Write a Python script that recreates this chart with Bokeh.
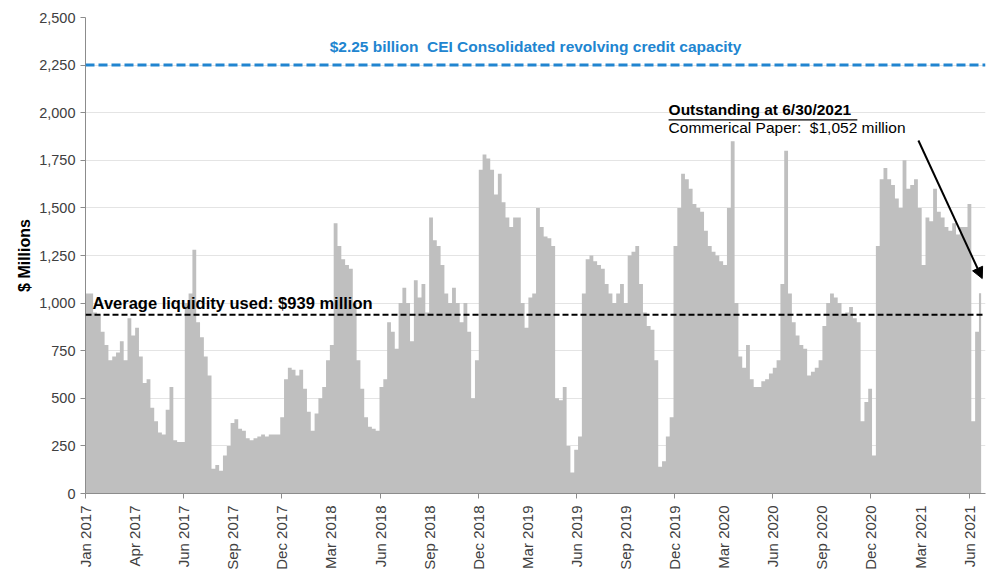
import math
import pandas as pd
from bokeh.plotting import figure
from bokeh.models import (FixedTicker, DatetimeTickFormatter, NumeralTickFormatter,
                          Span, Label, Arrow, NormalHead, Range1d, ColumnDataSource)
from bokeh.embed import file_html
from bokeh.resources import INLINE

# ---------------- data (weekly readings, $ millions) ----------------
start_date = "2017-01-01"
weekly_usage = [
    1050, 1050, 950, 940, 850, 780, 700, 720, 740, 800,
    700, 920, 830, 870, 720, 580, 600, 450, 380, 320,
    310, 440, 560, 280, 270, 270, 1000, 1050, 1280, 900,
    820, 720, 620, 130, 150, 120, 200, 250, 370, 390,
    340, 330, 290, 280, 290, 300, 310, 300, 310, 310,
    310, 400, 600, 660, 650, 620, 650, 550, 430, 330,
    420, 500, 560, 700, 780, 1420, 1300, 1230, 1200, 1180,
    1000, 700, 550, 400, 350, 340, 330, 560, 600, 900,
    850, 760, 1000, 1080, 1000, 800, 1120, 1030, 1100, 950,
    1450, 1330, 1300, 1200, 1050, 1000, 1080, 1000, 900, 1000,
    850, 500, 700, 1700, 1780, 1760, 1700, 1570, 1680, 1530,
    1450, 1400, 1450, 1450, 1000, 870, 1030, 1050, 1500, 1400,
    1350, 1340, 1300, 500, 490, 560, 250, 110, 230, 300,
    1050, 1230, 1250, 1220, 1200, 1180, 1100, 1050, 1000, 1050,
    1100, 1000, 1250, 1270, 1300, 1100, 950, 880, 860, 700,
    140, 170, 300, 400, 1300, 1500, 1680, 1650, 1600, 1520,
    1500, 1480, 1380, 1300, 1270, 1250, 1220, 1200, 1500, 1850,
    1000, 720, 660, 780, 600, 560, 560, 590, 600, 630,
    660, 700, 1100, 1800, 1050, 900, 830, 780, 760, 620,
    640, 660, 700, 880, 1000, 1050, 1030, 1000, 940, 950,
    980, 920, 900, 380, 480, 550, 200, 1300, 1650, 1710,
    1650, 1620, 1550, 1500, 1750, 1600, 1620, 1650, 1500, 1200,
    1450, 1430, 1600, 1480, 1450, 1400, 1380, 1420, 1360, 1400,
    1400, 1520, 380, 850, 1052,
]
end_date = "2021-07-01"          # 6/30/2021 close
credit_capacity = 2250
average_used = 939
outstanding_cp = 1052

y_ticks = [0, 250, 500, 750, 1000, 1250, 1500, 1750, 2000, 2250, 2500]

# --------------------------------------------------------------------
def ms(ts):
    return pd.Timestamp(ts).value // 10**6

dates = list(pd.date_range(start_date, periods=len(weekly_usage), freq="7D"))
dates.append(pd.Timestamp(end_date))
vals = weekly_usage + [weekly_usage[-1]]
src = ColumnDataSource(dict(x=dates, y=vals))

t0 = pd.Timestamp(start_date)
label_ticks = [ms(t0 + pd.Timedelta(days=90 * k)) for k in range(19)]
mark_ticks = [ms(t0 + pd.Timedelta(days=180 * k)) for k in range(10)]

p = figure(width=988, height=577, output_backend="svg", toolbar_location=None,
           x_axis_type="datetime",
           x_range=Range1d(ms(t0), ms(t0 + pd.Timedelta(days=1650))),
           y_range=Range1d(0, 2500),
           min_border_left=85, min_border_right=3, min_border_top=17,
           min_border_bottom=84)
p.outline_line_color = None
p.background_fill_color = "white"

p.varea_step(x="x", y1=0, y2="y", step_mode="after", source=src,
             fill_color="#BFBFBF")

# grid
p.xgrid.grid_line_color = None
p.ygrid.grid_line_color = "#E4E4E4"
p.ygrid.ticker = FixedTicker(ticks=y_ticks)

font = "Liberation Sans"

# y axis
p.yaxis.ticker = FixedTicker(ticks=y_ticks)
p.yaxis.formatter = NumeralTickFormatter(format="0,0")
p.yaxis.major_label_text_font = font
p.yaxis.major_label_text_font_size = "14.5px"
p.yaxis.major_label_text_color = "#404040"
p.yaxis.axis_line_color = "#8C8C8C"
p.yaxis.major_tick_line_color = "#8C8C8C"
p.yaxis.major_tick_out = 5
p.yaxis.major_tick_in = 0
p.yaxis.minor_tick_line_color = None
p.yaxis.axis_label = "$ Millions"
p.yaxis.axis_label_text_font = font
p.yaxis.axis_label_text_font_style = "bold"
p.yaxis.axis_label_text_font_size = "16px"
p.yaxis.axis_label_text_color = "#000000"
p.yaxis.axis_label_standoff = 3

# x axis
p.xaxis.ticker = FixedTicker(ticks=label_ticks, minor_ticks=mark_ticks)
p.xaxis.formatter = DatetimeTickFormatter(days="%b %Y", months="%b %Y", years="%b %Y",
                                          hours="%b %Y", minutes="%b %Y")
p.xaxis.major_label_orientation = math.pi / 2
p.xaxis.major_label_text_font = font
p.xaxis.major_label_text_font_size = "15px"
p.xaxis.major_label_text_color = "#404040"
p.xaxis.axis_line_color = "#8C8C8C"
p.xaxis.major_tick_line_color = None
p.xaxis.minor_tick_line_color = "#8C8C8C"
p.xaxis.minor_tick_out = 5
p.xaxis.minor_tick_in = 0
p.xaxis.major_label_standoff = 6

# reference lines
p.add_layout(Span(location=credit_capacity, dimension="width", line_color="#2185D0",
                  line_width=3, line_dash="9 4"))
p.add_layout(Span(location=average_used, dimension="width", line_color="#000000",
                  line_width=2, line_dash="6 3"))

# texts
p.add_layout(Label(x=ms("2019-04-06"), y=2348,
                   text="$2.25 billion\u00a0 CEI Consolidated revolving credit capacity",
                   text_font=font, text_font_style="bold", text_font_size="15.5px",
                   text_color="#2185D0", text_align="center", text_baseline="middle"))
p.add_layout(Label(x=ms("2017-01-14"), y=1003,
                   text="Average liquidity used: $939 million",
                   text_font=font, text_font_style="bold", text_font_size="16.5px",
                   text_color="#000000", text_align="left", text_baseline="middle"))
p.add_layout(Label(x=ms("2019-12-06"), y=2017,
                   text="Outstanding at 6/30/2021",
                   text_font=font, text_font_style="bold", text_font_size="15.5px",
                   text_color="#000000", text_align="left", text_baseline="middle"))
p.add_layout(Label(x=ms("2019-12-06"), y=1922,
                   text="Commerical Paper:\u00a0 $1,052 million",
                   text_font=font, text_font_size="15.5px",
                   text_color="#000000", text_align="left", text_baseline="middle"))
p.segment(x0=[ms("2019-12-06")], y0=[1962], x1=[ms("2020-11-16")], y1=[1962],
          line_color="#000000", line_width=1.2)

p.add_layout(Arrow(end=NormalHead(size=11, fill_color="black", line_color="black"),
                   x_start=ms("2021-03-08"), y_start=1854,
                   x_end=ms("2021-07-03"), y_end=1129,
                   line_color="black", line_width=2))

open("out.html", "w").write(file_html(p, INLINE))
